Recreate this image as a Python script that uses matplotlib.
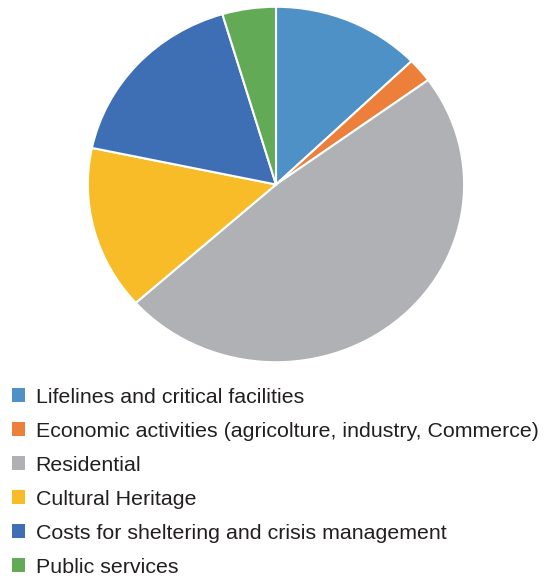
import matplotlib.pyplot as plt
from matplotlib.patches import Patch

categories = [
    'Lifelines and critical facilities',
    'Economic activities (agricolture, industry, Commerce)',
    'Residential',
    'Cultural Heritage',
    'Costs for sheltering and crisis management',
    'Public services',
]
shares = [12.8, 2.2, 48.4, 14.9, 17.1, 4.6]
colors = ['#4E91C7', '#EC7F3A', '#B0B1B4', '#F8BC28', '#3E6FB4', '#62AA55']

plt.rcParams['font.family'] = ['Liberation Sans', 'DejaVu Sans']

W, H = 545, 576
fig = plt.figure(figsize=(W / 100, H / 100), dpi=100)

# pie area in pixels: slightly wider than tall
left, right, top, bottom = 86, 466, 5, 364
ax = fig.add_axes([left / W, 1 - bottom / H, (right - left) / W, (bottom - top) / H])
wedges, _ = ax.pie(shares, colors=colors, startangle=90, counterclock=False,
                   radius=1, wedgeprops=dict(edgecolor='white', linewidth=1.5))
ax.set_aspect('auto')
ax.set_xlim(-1.01, 1.01)
ax.set_ylim(-1.01, 1.01)
ax.axis('off')

# legend squares without the white wedge outline
handles = [Patch(facecolor=c, edgecolor='none') for c in colors]
fs = 15.4
fig.legend(handles, categories, loc='upper left', bbox_to_anchor=(12 / W, 1 - 388 / H),
           frameon=False, fontsize=fs, handlelength=0.63, handleheight=0.63,
           handletextpad=0.48, labelspacing=0.70, borderpad=0, borderaxespad=0,
           labelcolor='#231F20')

fig.savefig('out.png', dpi=100)
